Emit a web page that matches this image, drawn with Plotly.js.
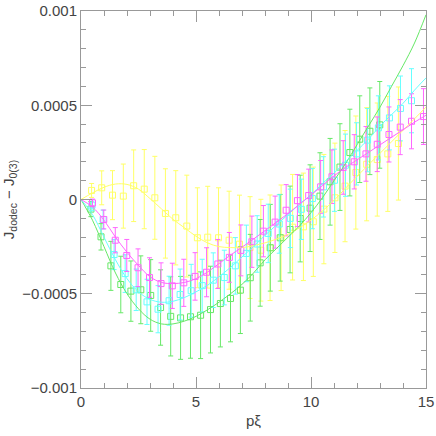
<!DOCTYPE html>
<html>
<head>
<meta charset="utf-8">
<script src="https://cdn.plot.ly/plotly-3.0.1.min.js"></script>
<style>
  html, body { margin: 0; padding: 0; background: #fff; }
  #plot { width: 436px; height: 436px; }
</style>
</head>
<body>
<div id="plot"></div>
<script>
// all y values below are in units of 1e-3
const yUnit = 1e-3;

// fitted curves, sampled every 0.5 in p*xi
const fitX = [0, 0.5, 1, 1.5, 2, 2.5, 3, 3.5, 4, 4.5, 5, 5.5, 6, 6.5, 7, 7.5,
              8, 8.5, 9, 9.5, 10, 10.5, 11, 11.5, 12, 12.5, 13, 13.5, 14, 14.5, 15];
const yellowFit = [0, 0.035, 0.065, 0.082, 0.08, 0.055, 0.005, -0.05, -0.105, -0.15, -0.195, -0.23, -0.25, -0.255, -0.255, -0.245,
                   -0.23, -0.21, -0.185, -0.15, -0.11, -0.06, -0.005, 0.06, 0.123, 0.184, 0.245, 0.306, 0.367, 0.428, 0.49];
const greenFit = [0, -0.11, -0.25, -0.39, -0.50, -0.58, -0.635, -0.66, -0.66, -0.645, -0.62, -0.585, -0.545, -0.50, -0.45, -0.39,
                  -0.32, -0.26, -0.20, -0.14, -0.07, 0.01, 0.10, 0.19, 0.29, 0.39, 0.49, 0.60, 0.71, 0.83, 0.98];
const cyanFit = [0, -0.08, -0.20, -0.32, -0.42, -0.49, -0.53, -0.545, -0.54, -0.52, -0.49, -0.455, -0.41, -0.36, -0.305, -0.25,
                 -0.19, -0.135, -0.08, -0.025, 0.025, 0.085, 0.14, 0.20, 0.26, 0.32, 0.39, 0.45, 0.51, 0.58, 0.645];
const magentaFit = [0, -0.04, -0.11, -0.20, -0.28, -0.35, -0.41, -0.44, -0.446, -0.44, -0.42, -0.385, -0.34, -0.295, -0.253, -0.21,
                    -0.165, -0.12, -0.075, -0.025, 0.023, 0.075, 0.125, 0.17, 0.21, 0.25, 0.29, 0.33, 0.37, 0.41, 0.447];

// measured points with error bars
const yellowX = [0.46, 0.9, 1.37, 1.84, 2.29, 2.75, 3.21, 3.67, 4.12, 4.6, 5.06, 5.51, 5.98, 6.44, 6.89,
                 7.35, 7.82, 8.22, 8.7, 9.2, 9.67, 10.1, 10.56, 11.04, 11.48, 11.95, 12.42, 12.88, 13.34, 13.8];
const yellowY = [0.048, 0.062, 0.023, 0.018, 0.073, 0.055, 0.009, -0.074, -0.097, -0.141, -0.203, -0.2, -0.203, -0.216, -0.237,
                 -0.255, -0.269, -0.256, -0.203, -0.147, -0.145, -0.118, -0.051, 0.009, 0.071, 0.143, 0.187, 0.212, 0.242, 0.297];
const yellowErr = [0.037, 0.09, 0.13, 0.17, 0.19, 0.21, 0.22, 0.237, 0.25, 0.27, 0.265, 0.27, 0.265, 0.26, 0.26,
                   0.27, 0.27, 0.28, 0.28, 0.28, 0.285, 0.29, 0.29, 0.29, 0.295, 0.3, 0.3, 0.3, 0.305, 0.3];

const greenX = [0.43, 0.87, 1.30, 1.73, 2.17, 2.60, 3.03, 3.46, 3.90, 4.33, 4.76, 5.20, 5.63, 6.06, 6.50,
                6.93, 7.36, 7.79, 8.23, 8.66, 9.09, 9.53, 9.96, 10.39, 10.83, 11.26, 11.69, 12.12, 12.56, 12.99];
const greenY = [-0.051, -0.198, -0.352, -0.451, -0.486, -0.479, -0.509, -0.573, -0.62, -0.628, -0.622, -0.614, -0.584, -0.552, -0.525,
                -0.481, -0.415, -0.336, -0.256, -0.203, -0.159, -0.101, -0.046, 0.018, 0.094, 0.172, 0.249, 0.32, 0.362, 0.396];
const greenErr = [0.04, 0.07, 0.13, 0.15, 0.16, 0.18, 0.19, 0.2, 0.21, 0.22, 0.22, 0.23, 0.23, 0.23, 0.23,
                  0.23, 0.23, 0.23, 0.23, 0.23, 0.23, 0.23, 0.23, 0.23, 0.23, 0.23, 0.23, 0.23, 0.23, 0.23];

const cyanX = [0.48, 0.96, 1.44, 1.92, 2.40, 2.87, 3.35, 3.83, 4.31, 4.79, 5.27, 5.75, 6.23, 6.71, 7.19,
               7.66, 8.14, 8.62, 9.10, 9.58, 10.06, 10.54, 11.02, 11.50, 11.98, 12.46, 12.93, 13.41, 13.89, 14.37];
const cyanY = [-0.030, -0.106, -0.292, -0.393, -0.479, -0.543, -0.582, -0.537, -0.504, -0.484, -0.457, -0.428, -0.414, -0.352, -0.286,
               -0.236, -0.18, -0.13, -0.1, -0.052, 0.005, 0.067, 0.102, 0.182, 0.242, 0.315, 0.38, 0.433, 0.483, 0.524];
const cyanErr = [0.03, 0.05, 0.08, 0.10, 0.11, 0.12, 0.125, 0.13, 0.135, 0.14, 0.14, 0.145, 0.145, 0.15, 0.15,
                 0.15, 0.155, 0.155, 0.155, 0.16, 0.16, 0.16, 0.165, 0.165, 0.165, 0.168, 0.17, 0.17, 0.172, 0.17];

const magentaX = [0.5, 0.99, 1.49, 1.99, 2.48, 2.98, 3.48, 3.97, 4.47, 4.96, 5.46, 5.95, 6.45, 6.95, 7.43,
                  7.93, 8.44, 8.92, 9.41, 9.9, 10.42, 10.91, 11.4, 11.88, 12.39, 12.88, 13.39, 13.88, 14.37, 14.89];
const magentaY = [-0.018, -0.106, -0.216, -0.297, -0.362, -0.414, -0.446, -0.458, -0.442, -0.408, -0.386, -0.342, -0.307, -0.27, -0.224,
                  -0.168, -0.12, -0.057, -0.006, 0.021, 0.067, 0.121, 0.17, 0.2, 0.242, 0.293, 0.345, 0.384, 0.415, 0.44];
const magentaErr = [0.02, 0.05, 0.067, 0.085, 0.10, 0.105, 0.11, 0.12, 0.125, 0.126, 0.13, 0.13, 0.132, 0.135, 0.136,
                    0.136, 0.138, 0.136, 0.138, 0.14, 0.14, 0.142, 0.142, 0.144, 0.145, 0.145, 0.146, 0.146, 0.146, 0.148];

function scaled(arr) {
    return arr.map(v => v * yUnit);
}

function fitTrace(y, color) {
    return {
        x: fitX, y: scaled(y),
        type: 'scatter', mode: 'lines',
        line: { color: color, width: 1, shape: 'spline' },
        hoverinfo: 'skip'
    };
}

function pointsTrace(x, y, err, color) {
    return {
        x: x, y: scaled(y),
        type: 'scatter', mode: 'markers',
        marker: { symbol: 'square-open', size: 6, color: color, line: { color: color, width: 1 } },
        error_y: { type: 'data', array: scaled(err), visible: true, color: color, thickness: 1, width: 2.5 }
    };
}

const yellow = '#ffff66';
const green = '#66e866';
const cyan = '#66ffff';
const magenta = '#ff66ff';

const data = [
    pointsTrace(yellowX, yellowY, yellowErr, yellow),
    pointsTrace(greenX, greenY, greenErr, green),
    pointsTrace(cyanX, cyanY, cyanErr, cyan),
    pointsTrace(magentaX, magentaY, magentaErr, magenta),
    fitTrace(yellowFit, yellow),
    fitTrace(greenFit, green),
    fitTrace(cyanFit, cyan),
    fitTrace(magentaFit, magenta)
];

const axisCommon = {
    showgrid: false,
    zeroline: false,
    showline: true,
    linecolor: '#999',
    linewidth: 1,
    mirror: 'ticks',
    ticks: 'inside',
    ticklen: 11,
    tickcolor: '#999',
    tickfont: { family: 'Liberation Sans, sans-serif', size: 15, color: '#444' }
};

const layout = {
    width: 436,
    height: 436,
    margin: { l: 81, r: 10, t: 11, b: 48 },
    paper_bgcolor: '#fff',
    plot_bgcolor: '#fff',
    showlegend: false,
    font: { family: 'Liberation Sans, sans-serif', size: 15, color: '#444' },
    xaxis: Object.assign({}, axisCommon, {
        range: [0, 15],
        tickmode: 'linear', tick0: 0, dtick: 5,
        minor: { tickmode: 'linear', tick0: 0, dtick: 1, ticks: 'inside', ticklen: 5, tickcolor: '#999' },
        title: { text: 'p\u03be', font: { size: 15, color: '#444' }, standoff: 6 }
    }),
    yaxis: Object.assign({}, axisCommon, {
        range: [-0.001, 0.001],
        tickmode: 'array',
        tickvals: [-0.001, -0.0005, 0, 0.0005, 0.001],
        ticktext: ['\u22120.001', '\u22120.0005', '0', '0.0005', '0.001'],
        minor: { tickmode: 'linear', tick0: 0, dtick: 0.0001, ticks: 'inside', ticklen: 5, tickcolor: '#999' },
        title: { text: 'J<sub>dodec</sub> \u2212 J<sub>0(3)</sub>', font: { size: 15, color: '#444' }, standoff: 10 }
    })
};

Plotly.newPlot('plot', data, layout, { staticPlot: true });
</script>
</body>
</html>
